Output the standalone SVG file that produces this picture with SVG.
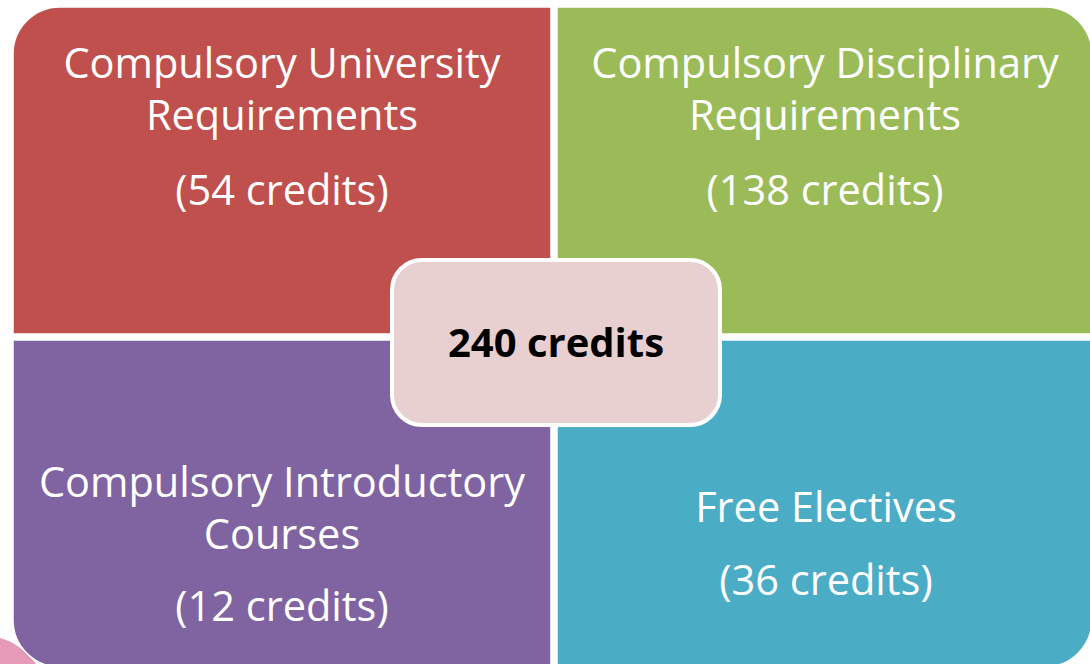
<svg xmlns="http://www.w3.org/2000/svg" width="1090" height="664" viewBox="0 0 1090 664">
  <style>
    .q { stroke: #ffffff; stroke-width: 1.5; }
    .lbl { font-family: "Open Sans", "Liberation Sans", sans-serif; font-size: 41.5px; fill: #ffffff; text-anchor: middle; }
    .ctr { font-family: "Open Sans", "Liberation Sans", sans-serif; font-size: 40px; font-weight: bold; fill: #000000; text-anchor: middle; }
  </style>
  <rect x="0" y="0" width="1090" height="664" fill="#ffffff"/>
  <path d="M0,638 C12,641 26,650 36,664 L0,664 Z" fill="#E79AB6"/>
  <g id="connectors"></g>
  <g id="node-university">
    <path class="q" d="M13,54 A47,47 0 0 1 60,7 L551,7 L551,334 L13,334 Z" fill="#C0504D"/>
    <text class="lbl" x="282" y="78">Compulsory University</text>
    <text class="lbl" x="282" y="130">Requirements</text>
    <text class="lbl" x="282" y="205">(54 credits)</text>
  </g>
  <g id="node-disciplinary">
    <path class="q" d="M557,7 L1045,7 A47,47 0 0 1 1092,54 L1092,334 L557,334 Z" fill="#9BBB59"/>
    <text class="lbl" x="825" y="78">Compulsory Disciplinary</text>
    <text class="lbl" x="825" y="130">Requirements</text>
    <text class="lbl" x="825" y="205">(138 credits)</text>
  </g>
  <g id="node-introductory">
    <path class="q" d="M13,340 L551,340 L551,667 L60,667 A47,47 0 0 1 13,620 Z" fill="#8064A2"/>
    <text class="lbl" x="282" y="497">Compulsory Introductory</text>
    <text class="lbl" x="282" y="549">Courses</text>
    <text class="lbl" x="282" y="621">(12 credits)</text>
  </g>
  <g id="node-electives">
    <path class="q" d="M557,340 L1092,340 L1092,620 A47,47 0 0 1 1045,667 L557,667 Z" fill="#4BACC6"/>
    <text class="lbl" x="826" y="522">Free Electives</text>
    <text class="lbl" x="826" y="595">(36 credits)</text>
  </g>
  <g id="node-total">
    <rect x="392" y="260" width="328" height="165" rx="30" ry="30" fill="#E8D0D1" stroke="#ffffff" stroke-width="4"/>
    <text class="ctr" x="556" y="357">240 credits</text>
  </g>
</svg>
